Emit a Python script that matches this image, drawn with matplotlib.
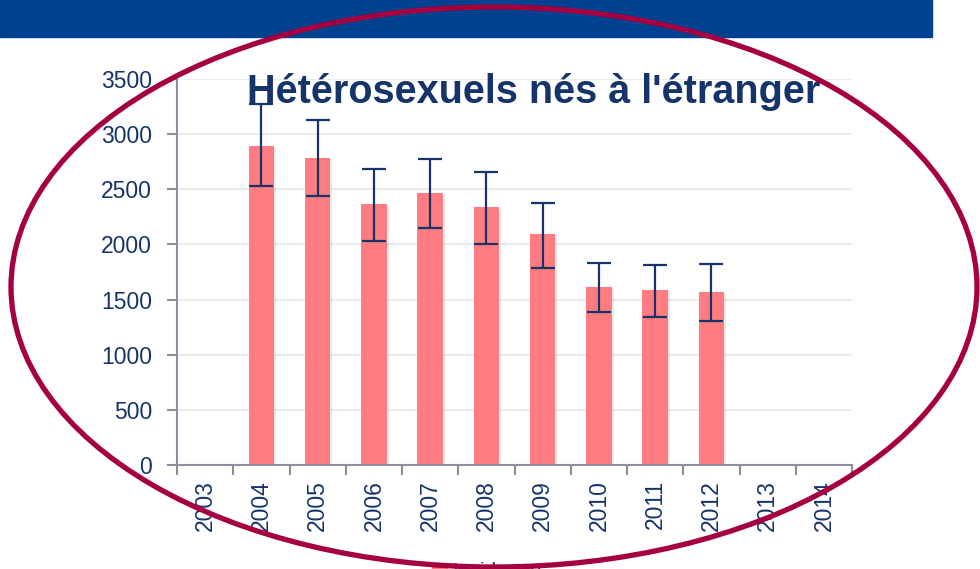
import matplotlib
matplotlib.use("Agg")
import matplotlib.pyplot as plt
import matplotlib.patheffects as pe
from matplotlib.patches import Rectangle, Ellipse
import numpy as np

years = ["2003", "2004", "2005", "2006", "2007", "2008", "2009", "2010", "2011", "2012", "2013", "2014"]
incidence = [np.nan, 2890, 2785, 2370, 2465, 2335, 2095, 1615, 1590, 1570, np.nan, np.nan]
err_low = [np.nan, 2530, 2440, 2035, 2145, 2000, 1790, 1390, 1340, 1305, np.nan, np.nan]
err_high = [np.nan, 3270, 3125, 2685, 2775, 2660, 2380, 1830, 1815, 1825, np.nan, np.nan]
y_ticks = [0, 500, 1000, 1500, 2000, 2500, 3000, 3500]

title = "Hétérosexuels nés à l'étranger"
legend_label = "Incidence"

navy = "#17346a"
bar_color = "#ff7c80"
W, H = 980, 569

plt.rcParams['font.family'] = ['Liberation Sans', 'DejaVu Sans']

fig = plt.figure(figsize=(W / 100, H / 100), dpi=100)
ax = fig.add_axes([177 / W, 1 - 465 / H, 675 / W, 386 / H])

x = np.arange(len(years))
vals = np.array(incidence, dtype=float)
lo = vals - np.array(err_low, dtype=float)
hi = np.array(err_high, dtype=float) - vals

bars = ax.bar(x, np.nan_to_num(vals), width=0.45, color=bar_color, zorder=2)
for b in bars:
    b.set_path_effects([pe.SimplePatchShadow(offset=(1.5, -1), alpha=0.12, shadow_rgbFace='#555555'), pe.Normal()])
ax.errorbar(x, vals, yerr=[lo, hi], fmt='none', ecolor=navy, elinewidth=1.6,
            capsize=8.5, capthick=1.6, zorder=3)

ax.set_xlim(-0.5, len(years) - 0.5)
ax.set_ylim(0, 3500)
ax.set_yticks(y_ticks)
ax.set_yticklabels([str(v) for v in y_ticks])
ax.yaxis.grid(True, color='#ebebeb', linewidth=1.5, zorder=0)
ax.set_axisbelow(True)

ax.set_xticks(np.arange(len(years) + 1) - 0.5)
ax.set_xticklabels([])
ax.set_xticks(x, minor=True)
ax.set_xticklabels(years, minor=True, rotation=90)
ax.tick_params(axis='x', which='major', length=7, width=1.5, color='#8d8fa0', direction='out')
ax.tick_params(axis='x', which='minor', length=0, pad=11, labelsize=16.5, labelcolor=navy)
ax.tick_params(axis='y', length=7, width=1.5, color='#8d8fa0', pad=11, labelsize=16.5, labelcolor=navy)

for s in ['top', 'right']:
    ax.spines[s].set_visible(False)
for s in ['left', 'bottom']:
    ax.spines[s].set_color('#8d8fa0')
    ax.spines[s].set_linewidth(1.5)

fig.text(247 / W, 1 - 103 / H, title, fontsize=28.5, fontweight='bold', color=navy,
         va='baseline', ha='left', zorder=5)

# legend, mostly cut off by the bottom edge as in the original slide
fig.patches.append(Rectangle((432 / W, -3 / H), 15 / W, 5 / H, transform=fig.transFigure,
                             color=bar_color, zorder=4))
fig.text(452 / W, -8 / H, legend_label, fontsize=15, color=navy, va='baseline', ha='left')

# banner
fig.patches.append(Rectangle((0, 1 - 37 / H), 932 / W, 37 / H, transform=fig.transFigure,
                             color='#004190', zorder=1))

# ellipse drawn over the chart
fig.patches.append(Ellipse((494 / W, 1 - 287 / H), 966 / W, 560 / H, transform=fig.transFigure,
                           fill=False, edgecolor='#a5003f', linewidth=3.8, zorder=6))

fig.savefig("out.png", dpi=100)
